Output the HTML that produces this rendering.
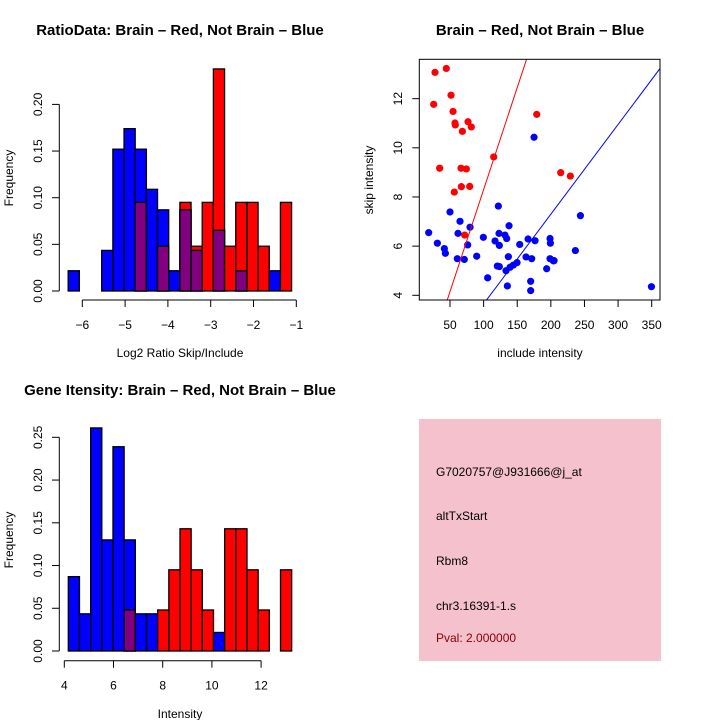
<!DOCTYPE html>
<html><head><meta charset="utf-8"><style>
html,body{margin:0;padding:0;background:#fff;}
svg{display:block;font-family:"Liberation Sans",sans-serif;}
</style></head><body>
<svg id="chart" width="720" height="720" viewBox="0 0 720 720" xmlns="http://www.w3.org/2000/svg">
<rect width="720" height="720" fill="#fff"/>
<g id="p1"></g>
<g id="p2"></g>
<g id="p3"></g>
<g id="p4">
<rect x="419" y="419" width="242" height="242" fill="#f4c1cd"/>
<text x="436" y="476" font-size="12">G7020757@J931666@j_at</text>
<text x="436" y="520" font-size="12">altTxStart</text>
<text x="436" y="565" font-size="12">Rbm8</text>
<text x="436" y="610" font-size="12">chr3.16391-1.s</text>
<text x="436" y="642" font-size="12" fill="#8b0000">Pval: 2.000000</text>
</g>
</svg>
<script>
// ---- Histogram 1 data ----
const h1Start = -6.33, h1Width = 0.261;
const h1Blue = [0.0217,0,0,0.0435,0.152,0.174,0.152,0.109,0.087,0.0217,0.087,0.0435,0,0.065,0,0.0217,0,0,0.0217,0];
const h1Red  = [0,0,0,0,0,0,0.095,0,0.048,0,0.095,0.048,0.095,0.238,0.048,0.095,0.095,0.048,0,0.095];
const h1XTicks = [-6,-5,-4,-3,-2,-1];
const h1YTicks = [0,0.05,0.10,0.15,0.20];
const h1YLabels = ["0.00","0.05","0.10","0.15","0.20"];
const h1XLabels = ["\u22126","\u22125","\u22124","\u22123","\u22122","\u22121"];
// ---- Histogram 2 data ----
const h3Start = 4.163, h3Width = 0.454;
const h3Blue = [0.087,0.0435,0.261,0.13,0.239,0.13,0.0435,0.0435,0,0,0,0,0,0.0217,0,0,0,0,0,0];
const h3Red  = [0,0,0,0,0,0.048,0,0,0.048,0.095,0.143,0.095,0.048,0,0.143,0.143,0.095,0.048,0,0.095];
const h3XTicks = [4,6,8,10,12];
const h3YTicks = [0,0.05,0.10,0.15,0.20,0.25];
const h3YLabels = ["0.00","0.05","0.10","0.15","0.20","0.25"];
// ---- Scatter data ----
const redX = [27.7,44.5,25.7,51.5,54.5,57.4,57.9,68.4,76.8,81.7,34.6,66.4,74.3,66.9,79.3,56.4,71.8,115,179,214.7,229];
const redY = [13.07,13.23,11.77,12.14,11.48,11.01,10.93,10.67,11.06,10.85,9.17,9.17,9.14,8.42,8.43,8.20,6.45,9.63,11.36,8.99,8.85];
const blueX = [18.3,31.2,41.6,43.1,60.9,71.3,50,64.9,61.9,79.8,76.3,89.7,106,99.6,117,121.9,122.9,123.4,120.4,123.4,131.8,134.3,137.8,136.8,133.3,135.3,139.3,144.2,149.7,153.7,163.1,166.1,171.5,176.5,170,170,175,193.8,198.8,199.3,198.8,203.8,204.8,236.5,244,349.6];
const blueY = [6.55,6.12,5.90,5.71,5.49,5.46,7.39,7.01,6.52,6.77,6.05,5.59,4.71,6.36,6.21,7.63,6.52,6.03,5.19,5.17,6.45,6.31,6.83,5.57,5.00,4.38,5.14,5.23,5.33,6.07,5.56,6.29,5.49,6.22,4.57,4.19,10.43,5.08,6.31,6.12,5.49,5.40,5.41,5.82,7.24,4.35];
const redSlope = 0.083, blueSlope = 0.0365;
const sXTicks = [50,100,150,200,250,300,350];
const sYTicks = [4,6,8,10,12];

const NS="http://www.w3.org/2000/svg";
function mk(parent,tag,attrs,txt){const e=document.createElementNS(NS,tag);for(const k in attrs)e.setAttribute(k,attrs[k]);if(txt!==undefined)e.textContent=txt;parent.appendChild(e);return e;}

function histogram(g,start,width,blue,red,xs,ys,yTicks,yLabels,xTicks,xLabels,axY,texts){
  const y0=ys(0);
  for(let i=0;i<blue.length;i++){
    const a=xs(start+i*width), b=xs(start+(i+1)*width);
    const bl=blue[i], rd=red[i];
    if(bl>0){const r=mk(g,'rect',{x:a,y:ys(bl),width:b-a,height:y0-ys(bl),fill:'#0000ff',stroke:'#000','stroke-width':1.3});
      
      }
    if(rd>0){const r=mk(g,'rect',{x:a,y:ys(rd),width:b-a,height:y0-ys(rd),fill:'#ff0000',stroke:'#000','stroke-width':1.3});
      
      }
    const m=Math.min(bl,rd);
    if(m>0){const r=mk(g,'rect',{x:a,y:ys(m),width:b-a,height:y0-ys(m),fill:'#800080',stroke:'#000','stroke-width':1.3});
      
      }
  }
  const yl=mk(g,'line',{x1:59.3,x2:59.3,y1:ys(yTicks[0]),y2:ys(yTicks[yTicks.length-1]),stroke:'#000'});
  
  
  yTicks.forEach((t,i)=>{const y=ys(t);mk(g,'line',{x1:52,x2:59.3,y1:y,y2:y,stroke:'#000'});
    const tx=mk(g,'text',{x:42,y:y,'font-size':12,'text-anchor':'middle',transform:`rotate(-90 42 ${y})`},yLabels[i]);
    
    });
  const xl=mk(g,'line',{x1:xs(xTicks[0]),x2:xs(xTicks[xTicks.length-1]),y1:axY,y2:axY,stroke:'#000'});
  
  
  xTicks.forEach((t,i)=>{const x=xs(t);mk(g,'line',{x1:x,x2:x,y1:axY,y2:axY+7,stroke:'#000'});
    const tx=mk(g,'text',{x:x,y:axY+29,'font-size':12,'text-anchor':'middle'},xLabels[i]);
    
    });
  texts.forEach(t=>{const e=mk(g,'text',t.a,t.s);
    
    });
}

const x1=v=>82.3+(v+6)*42.8, y1=v=>291-v*933;
histogram(document.getElementById('p1'),h1Start,h1Width,h1Blue,h1Red,x1,y1,h1YTicks,h1YLabels,h1XTicks,h1XLabels,300,[
 {n:'chart-title',s:'RatioData: Brain \u2013 Red, Not Brain \u2013 Blue',a:{x:180,y:35,'font-size':15,'font-weight':'bold','text-anchor':'middle'}},
 {n:'x-axis-title',s:'Log2 Ratio Skip/Include',a:{x:180,y:357,'font-size':12,'text-anchor':'middle'}},
 {n:'y-axis-title',s:'Frequency',a:{x:13,y:178,'font-size':12,'text-anchor':'middle',transform:'rotate(-90 13 178)'}}
]);

const x3=v=>64.3+(v-4)*24.6, y3=v=>651-v*854.7;
histogram(document.getElementById('p3'),h3Start,h3Width,h3Blue,h3Red,x3,y3,h3YTicks,h3YLabels,h3XTicks,h3XTicks.map(String),660.7,[
 {n:'chart-title',s:'Gene Itensity: Brain \u2013 Red, Not Brain \u2013 Blue',a:{x:180,y:395,'font-size':15,'font-weight':'bold','text-anchor':'middle'}},
 {n:'x-axis-title',s:'Intensity',a:{x:180,y:718,'font-size':12,'text-anchor':'middle'}},
 {n:'y-axis-title',s:'Frequency',a:{x:13,y:540,'font-size':12,'text-anchor':'middle',transform:'rotate(-90 13 540)'}}
]);

(function(){
  const g=document.getElementById('p2');
  const xs=v=>450+(v-50)*0.6723, ys=v=>295.3-(v-4)*24.58;
  const L=419.3,R=660,T=59.3,B=300;
  mk(g,'defs',{}).innerHTML='<clipPath id="clip2"><rect x="419.3" y="59.3" width="240.7" height="240.7"/></clipPath>';
  const cg=mk(g,'g',{'clip-path':'url(#clip2)'});
  redX.forEach((v,i)=>{const c=mk(cg,'circle',{cx:xs(v),cy:ys(redY[i]),r:3.6,fill:'#ff0000'});
    
    });
  blueX.forEach((v,i)=>{const c=mk(cg,'circle',{cx:xs(v),cy:ys(blueY[i]),r:3.6,fill:'#0000ff'});
    
    });
  const lr=mk(cg,'line',{x1:xs(0),y1:ys(0),x2:xs(400),y2:ys(400*redSlope),stroke:'#ff0000'});
  
  
  const lb=mk(cg,'line',{x1:xs(0),y1:ys(0),x2:xs(400),y2:ys(400*blueSlope),stroke:'#0000ff'});
  
  
  const box=mk(g,'rect',{x:L,y:T,width:R-L,height:B-T,fill:'none',stroke:'#000'});
  
  
  sXTicks.forEach(t=>{const x=xs(t);mk(g,'line',{x1:x,x2:x,y1:B,y2:B+7,stroke:'#000'});
    const tx=mk(g,'text',{x:x,y:B+29,'font-size':12,'text-anchor':'middle'},String(t));
    
    });
  sYTicks.forEach(t=>{const y=ys(t);mk(g,'line',{x1:L-7,x2:L,y1:y,y2:y,stroke:'#000'});
    const tx=mk(g,'text',{x:402,y:y,'font-size':12,'text-anchor':'middle',transform:`rotate(-90 402 ${y})`},String(t));
    
    });
  const t1=mk(g,'text',{x:540,y:35,'font-size':15,'font-weight':'bold','text-anchor':'middle'},'Brain \u2013 Red, Not Brain \u2013 Blue');
  
  
  const t2=mk(g,'text',{x:540,y:357,'font-size':12,'text-anchor':'middle'},'include intensity');
  
  
  const t3=mk(g,'text',{x:373,y:180,'font-size':12,'text-anchor':'middle',transform:'rotate(-90 373 180)'},'skip intensity');
  
  
})();
</script>
</body></html>
